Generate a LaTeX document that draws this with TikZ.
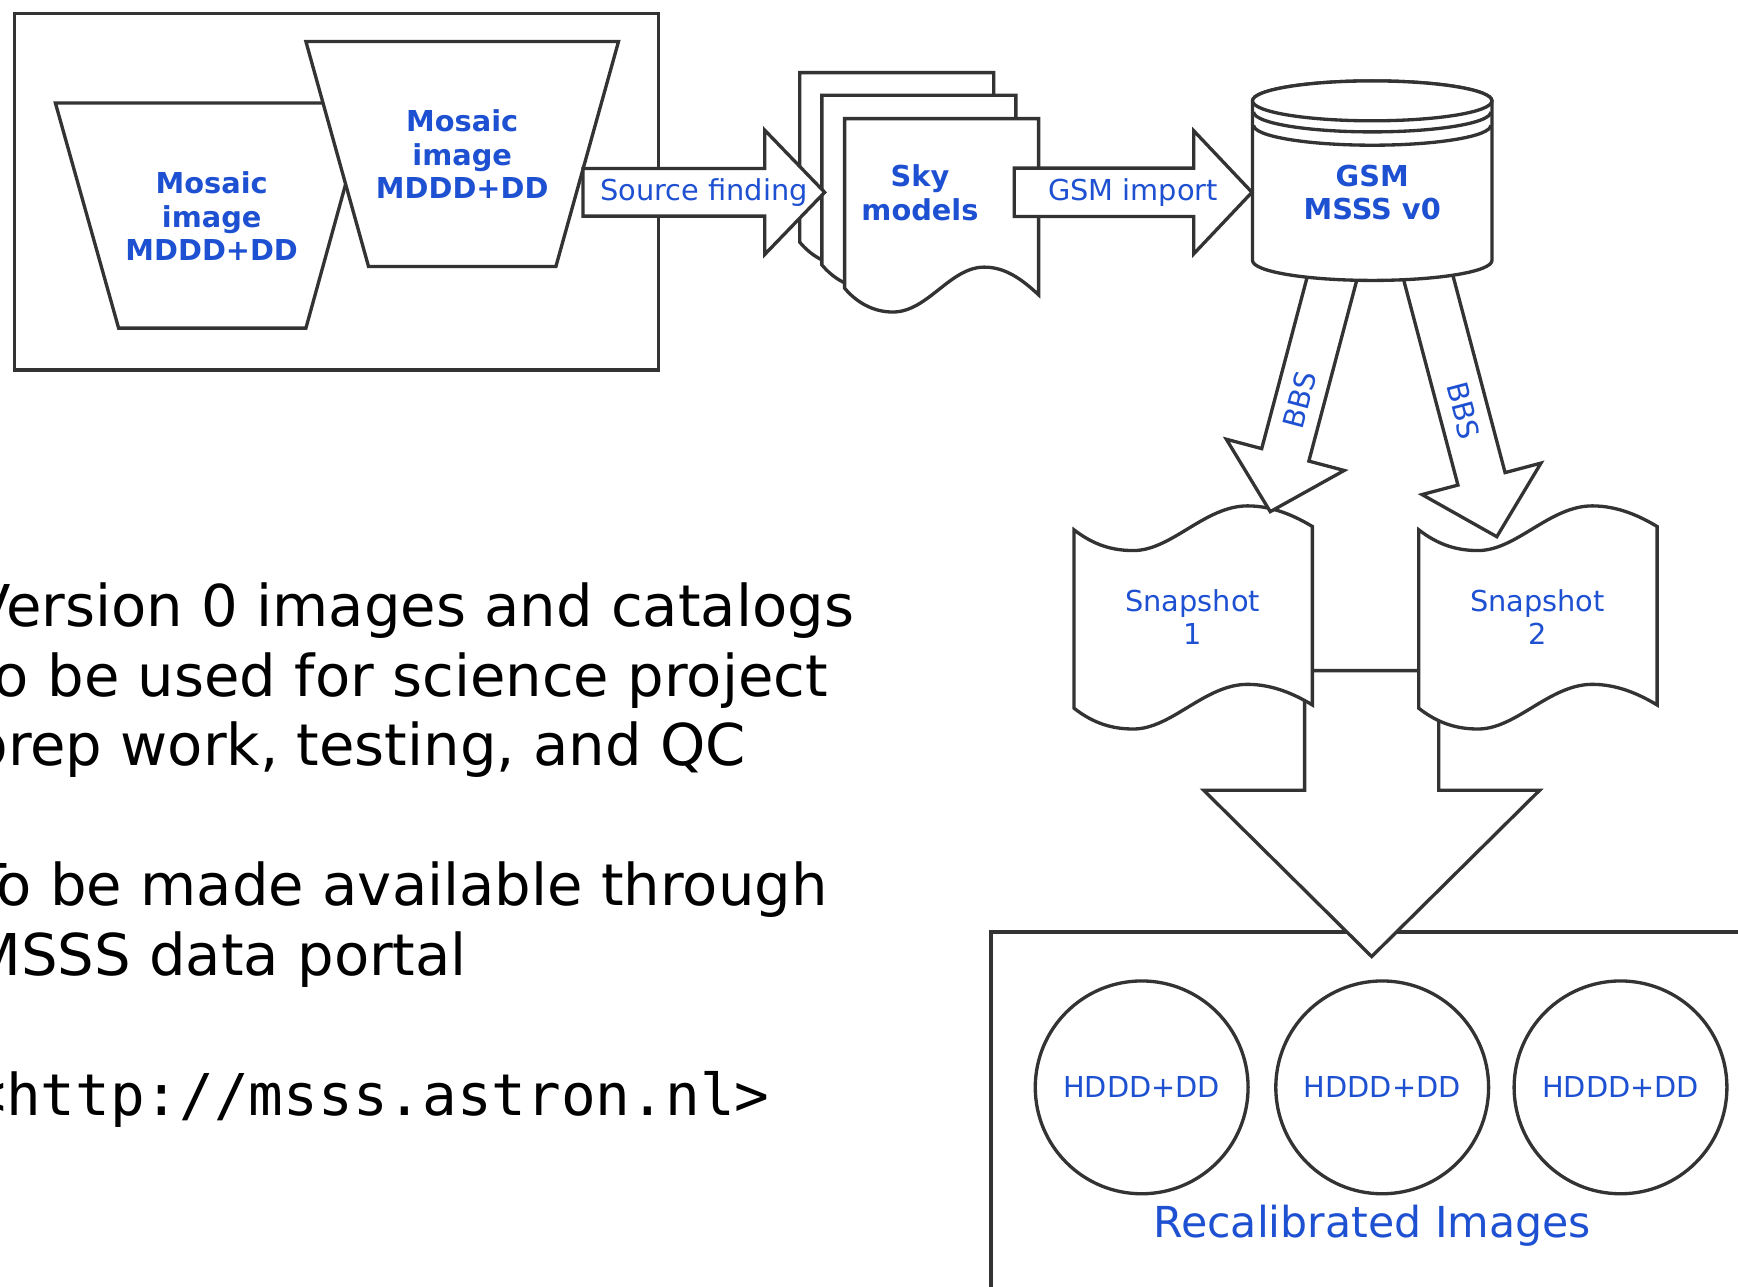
\documentclass[tikz,border=0pt]{standalone}
\usepackage{fontspec}
\setmainfont{DejaVu Sans}
\setmonofont{DejaVu Sans Mono}
\usetikzlibrary{calc}
\definecolor{lineGray}{HTML}{333333}
\definecolor{labelBlue}{RGB}{30,80,210}
\tikzset{
  shapeline/.style={draw=lineGray, line width=3pt, fill=white},
  frameline/.style={draw=lineGray, line width=3.2pt},
  boldlabel/.style={text=labelBlue, font=\bfseries\fontsize{26}{30}\selectfont, align=center},
  plainlabel/.style={text=labelBlue, font=\fontsize{26}{30}\selectfont, align=center},
}
% block arrow: [label pos]{tail}{tip}{half shaft}{half head}{head length}{label}
\newcommand{\blockarrow}[7][0.5]{%
  \coordinate (ba-base) at ($(#3)!#6!(#2)$);
  \filldraw[shapeline] ($(#2)!#4!90:(#3)$) -- ($(ba-base)!#4!90:(#3)$) -- ($(ba-base)!#5!90:(#3)$) -- (#3)
    -- ($(ba-base)!#5!-90:(#3)$) -- ($(ba-base)!#4!-90:(#3)$) -- ($(#2)!#4!-90:(#3)$) -- cycle;
  \path (#2) -- (#3) node[pos=#1, sloped, plainlabel] {#7};
}
% one page of the sky model stack, from its top left corner
\newcommand{\skypage}[1]{%
  \filldraw[shapeline, shift={(#1)}] (0,0) -- (175,0) -- (175,159)
    .. controls (160,145) and (145,134) .. (126,134)
    .. controls (95,134) and (75,174.5) .. (43.5,174.5)
    .. controls (25,174.5) and (10,165) .. (0,153) -- cycle;
}
% snapshot tape, from its top left corner
\newcommand{\snapshotshape}[1]{%
  \filldraw[shapeline, shift={(#1)}] (0,0)
    .. controls (18,14) and (35,18.7) .. (53.5,18.7)
    .. controls (88,18.7) and (118,-21.6) .. (156.5,-21.6)
    .. controls (180,-21.6) and (200,-12) .. (215,-3) -- (215,158)
    .. controls (200,149) and (180,139.4) .. (156.5,139.4)
    .. controls (118,139.4) and (88,179.7) .. (53.5,179.7)
    .. controls (35,179.7) and (18,175) .. (0,161) -- cycle;
}
\begin{document}
\begin{tikzpicture}[x=1pt,y=-1pt]
  \useasboundingbox (0,0) rectangle (1568,1161);
  \clip (0,0) rectangle (1568,1161);

  % mosaic images
  \draw[frameline] (13,12) rectangle (594,334);
  \filldraw[shapeline] (50,93) -- (332,93) -- (276,296) -- (107,296) -- cycle;
  \node[boldlabel] (mosaic1) at (191,195) {Mosaic\\image\\MDDD+DD};
  \filldraw[shapeline] (276,37.5) -- (558,37.5) -- (501.5,240.5) -- (332.5,240.5) -- cycle;
  \node[boldlabel] (mosaic2) at (417,139) {Mosaic\\image\\MDDD+DD};

  % sky models
  \skypage{721.5,65.5}
  \skypage{741.5,86}
  \skypage{762,107}
  \node[boldlabel] (sky) at (830,174) {Sky\\models};

  \coordinate (sf-tail) at (526,173.5);
  \coordinate (sf-tip) at (744,173.5);
  \blockarrow{sf-tail}{sf-tip}{21.5pt}{56pt}{54pt}{Source finding}

  % recalibrated images
  \draw[frameline] (894,1200) -- (894,841) -- (1620,841);
  \foreach \n/\x in {1/1030,2/1247,3/1462}
    \node[circle, draw=lineGray, line width=3pt, minimum size=192pt, plainlabel] (img\n) at (\x,981) {HDDD+DD};
  \node[text=labelBlue, font=\fontsize{38.5}{42}\selectfont] (recal) at (1238,1106) {Recalibrated Images};

  % snapshots
  \coordinate (merge-tail) at (1237.5,605);
  \coordinate (merge-tip) at (1237.5,863);
  \blockarrow{merge-tail}{merge-tip}{60.5pt}{151.5pt}{150pt}{}
  \snapshotshape{969,478}
  \node[plainlabel] (snap1) at (1076,557) {Snapshot\\1};
  \snapshotshape{1280,478}
  \node[plainlabel] (snap2) at (1387,557) {Snapshot\\2};

  \coordinate (bbs1-tail) at (1206,235);
  \coordinate (bbs1-tip) at (1146,461.6);
  \blockarrow[0.555]{bbs1-tail}{bbs1-tip}{22pt}{55pt}{53pt}{BBS}
  \coordinate (bbs2-tail) at (1285,237);
  \coordinate (bbs2-tip) at (1350.4,484.2);
  \blockarrow[0.54]{bbs2-tail}{bbs2-tip}{22pt}{55.5pt}{54pt}{BBS}

  % global sky model
  \filldraw[shapeline] (1130,91) -- (1130,235) arc[start angle=180, end angle=0, x radius=108, y radius=18]
    -- (1346,91) arc[start angle=0, end angle=-180, x radius=108, y radius=18] -- cycle;
  \draw[shapeline] (1238,91) ellipse [x radius=108, y radius=18];
  \draw[shapeline, fill=none] (1131,101) arc[start angle=180, end angle=0, x radius=107, y radius=18];
  \draw[shapeline, fill=none] (1131,113) arc[start angle=180, end angle=0, x radius=107, y radius=18];
  \node[boldlabel] (gsm) at (1238,174) {GSM\\MSSS v0};

  \coordinate (gi-tail) at (915,173.5);
  \coordinate (gi-tip) at (1129.5,173.5);
  \blockarrow{gi-tail}{gi-tip}{21.8pt}{55.5pt}{52.5pt}{GSM import}

  % notes
  \node[anchor=base west, align=left, inner sep=0, font=\fontsize{52}{63}\selectfont] (notes) at (-26,1006)
    {Version 0 images and catalogs\\to be used for science project\\prep work, testing, and QC\\[63pt]To be made available through\\MSSS data portal\\[63pt]\texttt{<http://msss.astron.nl>}};
\end{tikzpicture}
\end{document}
